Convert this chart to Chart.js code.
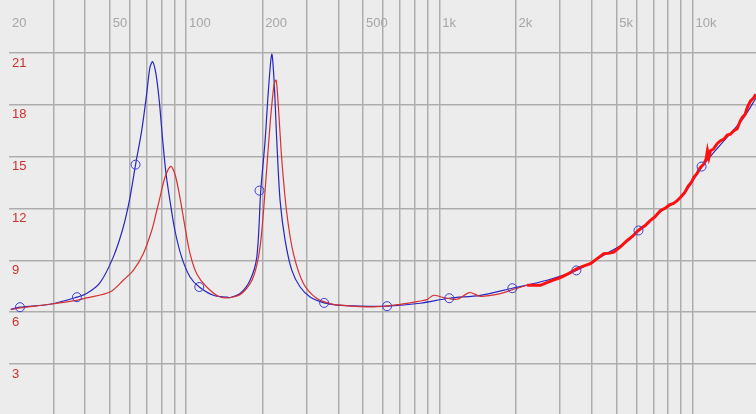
<!DOCTYPE html>
<html>
<head>
<meta charset="utf-8">
<script src="https://cdn.jsdelivr.net/npm/chart.js@4/dist/chart.umd.min.js"></script>
<style>
  html, body { margin: 0; padding: 0; background: #ececec; overflow: hidden; }
  #wrap { position: relative; width: 756px; height: 414px; }
</style>
</head>
<body>
<div id="wrap"><canvas id="c"></canvas></div>
<script>
// ---- data (frequency in Hz, value in ohm-like units) ----
const blueFreq = [20.3, 22.1, 29.0, 37.1, 40.5, 45.7, 51.6, 56.5, 60.1, 63.2, 66.8, 69.9, 72.0, 73.8, 76.1, 78.4, 80.9, 83.4, 86.4, 90.4, 96.1, 103.7, 112.8, 128.2, 145.2, 149.2, 163.5, 179.0, 190.3, 197.3, 205.2, 211.4, 218.0, 222.7, 228.2, 235.2, 246.2, 261.7, 282.2, 309.0, 351.0, 394, 487, 622.6, 841, 1095, 1452, 1942, 2664, 3478, 4458, 5518, 6116, 7472, 8962, 10852, 12898, 15716, 17800];
const blueVal  = [6.17, 6.29, 6.46, 6.87, 7.08, 7.70, 9.19, 10.92, 12.65, 14.54, 16.50, 18.62, 20.16, 20.50, 19.78, 18.23, 15.93, 14.00, 12.46, 10.73, 9.19, 8.04, 7.46, 6.98, 6.87, 6.85, 7.08, 7.85, 9.19, 13.04, 15.93, 18.81, 20.93, 19.39, 15.93, 12.46, 10.16, 8.42, 7.46, 6.88, 6.54, 6.41, 6.35, 6.35, 6.52, 6.81, 6.98, 7.39, 7.85, 8.42, 9.30, 10.10, 10.70, 11.82, 12.60, 14.38, 15.70, 17.15, 18.40];

const redFreq = [20.5, 22.1, 29.0, 37.0, 40.5, 50.1, 56.5, 61.9, 67.8, 73.2, 76.1, 78.9, 82.6, 87.0, 90.4, 94.6, 99.1, 103.7, 110.2, 120.7, 136.2, 153.8, 168.4, 184.4, 196.0, 205.2, 214.7, 222.7, 226.9, 231.6, 239.0, 250.1, 265.5, 290.8, 328.5, 370.8, 406, 548, 701, 841, 894, 949, 1039, 1175, 1317, 1452, 1742, 1966, 2222];
const redVal  = [6.16, 6.25, 6.46, 6.69, 6.83, 7.17, 7.85, 8.42, 9.39, 10.73, 11.70, 12.65, 13.81, 14.44, 14.00, 12.65, 10.92, 9.39, 8.23, 7.46, 6.88, 6.88, 7.17, 8.04, 9.77, 13.04, 16.89, 19.20, 19.43, 17.85, 14.77, 11.70, 9.39, 7.66, 6.79, 6.50, 6.41, 6.31, 6.46, 6.65, 6.73, 6.98, 6.85, 6.75, 7.14, 6.92, 7.08, 7.33, 7.56];

const redHiFreq = [2222, 2506, 2750, 3007, 3250, 3500, 3750, 3952, 4200, 4458, 4700, 4884, 5200, 5518, 5800, 6050, 6228, 6500, 6800, 7100, 7472, 7800, 8100, 8400, 8697, 8962, 9300, 9600, 9900, 10116, 10400, 10700, 11080, 11300, 11450, 11600, 11776, 12100, 12500, 12898, 13300, 13700, 14100, 14556, 15000, 15400, 15716, 16100, 16500, 16950, 17400, 17800];
const redHiVal  = [7.56, 7.56, 7.80, 8.00, 8.25, 8.52, 8.70, 8.81, 9.10, 9.39, 9.42, 9.48, 9.80, 10.16, 10.40, 10.68, 10.83, 11.02, 11.30, 11.52, 11.89, 12.02, 12.22, 12.30, 12.46, 12.65, 12.92, 13.28, 13.52, 13.81, 14.02, 14.35, 14.58, 14.85, 15.35, 14.95, 15.35, 15.45, 15.75, 15.93, 16.02, 16.25, 16.30, 16.50, 16.62, 17.05, 17.27, 17.45, 17.90, 18.23, 18.40, 18.62];

const markerFreq = [22.1, 37.1, 63.2, 112.8, 195, 351, 622, 1095, 1942, 3478, 6116, 10852];
const markerVal  = [6.29, 6.87, 14.54, 7.46, 13.04, 6.54, 6.35, 6.81, 7.39, 8.42, 10.73, 14.43];

const xTickValues = [20, 30, 40, 50, 60, 70, 80, 90, 100, 200, 300, 400, 500, 600, 700, 800, 900, 1000, 2000, 3000, 4000, 5000, 6000, 7000, 8000, 9000, 10000];
const xTickLabels = { 20: '20', 50: '50', 100: '100', 200: '200', 500: '500', 1000: '1k', 2000: '2k', 5000: '5k', 10000: '10k' };
const yTickValues = [3, 6, 9, 12, 15, 18, 21];
const yMin = 0.11, yMax = 24.07;

const zip = (xs, ys) => xs.map((x, i) => ({ x: x, y: ys[i] }));

const bgPlugin = {
  id: 'bg',
  beforeDraw(chart) {
    const ctx = chart.ctx;
    ctx.save();
    ctx.fillStyle = '#ececec';
    ctx.fillRect(0, 0, chart.width, chart.height);
    ctx.restore();
  }
};

const noEdgePadding = (s) => { s.paddingTop = 0; s.paddingBottom = 0; };

new Chart(document.getElementById('c'), {
  type: 'line',
  data: {
    datasets: [
      {
        label: 'markers',
        data: zip(markerFreq, markerVal),
        showLine: false,
        pointStyle: 'circle',
        pointRadius: 4.5,
        pointBorderWidth: 1,
        pointBorderColor: '#3c3cd6',
        pointBackgroundColor: 'rgba(0,0,0,0)',
        order: 0
      },
      {
        label: 'measured (high)',
        data: zip(redHiFreq, redHiVal),
        borderColor: '#ff1010',
        borderWidth: 3,
        pointRadius: 0,
        tension: 0,
        order: 1
      },
      {
        label: 'measured',
        data: zip(redFreq, redVal),
        borderColor: '#d83030',
        borderWidth: 1.2,
        pointRadius: 0,
        tension: 0.3,
        order: 2
      },
      {
        label: 'model',
        data: zip(blueFreq, blueVal),
        borderColor: '#2626c4',
        borderWidth: 1.2,
        pointRadius: 0,
        tension: 0.3,
        order: 3
      }
    ]
  },
  options: {
    responsive: true,
    maintainAspectRatio: false,
    animation: false,
    layout: { autoPadding: false, padding: { left: 3, right: 0, top: 0, bottom: 0 } },
    plugins: { legend: { display: false }, tooltip: { enabled: false } },
    scales: {
      x: {
        type: 'logarithmic',
        position: 'top',
        min: 20,
        max: 17800,
        afterBuildTicks: (s) => { s.ticks = xTickValues.map(v => ({ value: v })); },
        grid: {
          drawTicks: false,
          lineWidth: 1.5,
          color: (c) => (c.tick && c.tick.value === 20) ? 'rgba(0,0,0,0)' : '#adadad'
        },
        border: { display: false },
        ticks: {
          mirror: true,
          autoSkip: false,
          maxRotation: 0,
          align: 'start',
          labelOffset: 3,
          padding: 0,
          color: '#a6a6a6',
          font: { family: 'Liberation Sans, Arial, sans-serif', size: 13, lineHeight: 3.54 },
          callback: (v) => xTickLabels[v] || ''
        }
      },
      y: {
        type: 'linear',
        position: 'left',
        min: yMin,
        max: yMax,
        afterBuildTicks: (s) => { s.ticks = yTickValues.map(v => ({ value: v })); },
        afterFit: noEdgePadding,
        grid: { drawTicks: false, lineWidth: 1.5, color: '#adadad' },
        border: { display: false },
        ticks: {
          mirror: true,
          padding: 3,
          labelOffset: 10,
          color: '#cc3030',
          font: { family: 'Liberation Sans, Arial, sans-serif', size: 13, lineHeight: 0.01 },
          callback: (v) => String(v)
        }
      }
    }
  },
  plugins: [bgPlugin]
});
</script>
</body>
</html>
